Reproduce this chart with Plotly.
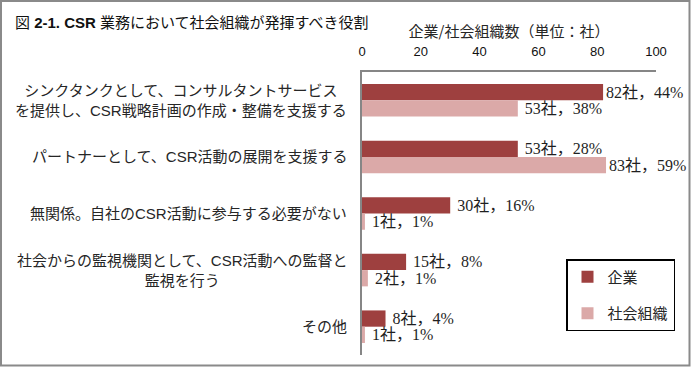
import plotly.graph_objects as go

categories = [
    "シンクタンクとして、コンサルタントサービス<br>を提供し、CSR戦略計画の作成・整備を支援する",
    "パートナーとして、CSR活動の展開を支援する",
    "無関係。自社のCSR活動に参与する必要がない",
    "社会からの監視機関として、CSR活動への監督と<br>監視を行う",
    "その他",
]
kigyo_counts = [82, 53, 30, 15, 8]
kigyo_pct = [44, 28, 16, 8, 4]
shakai_counts = [53, 83, 1, 2, 1]
shakai_pct = [38, 59, 1, 1, 1]
series_names = ["企業", "社会組織"]
x_ticks = [0, 20, 40, 60, 80, 100]

W, H = 692, 368
dark = "#9E403F"
light = "#DBA9A8"
label_font = dict(family="Liberation Serif, Noto Sans CJK JP", size=16, color="#1f1f1f")


def labels(counts, pcts):
    return [f" {c}社，{p}%" if c < 80 else f"{c}社，{p}%" for c, p in zip(counts, pcts)]


fig = go.Figure()
fig.add_trace(go.Bar(
    y=categories, x=kigyo_counts, orientation="h", name=series_names[0],
    marker=dict(color=dark, line=dict(width=0)),
    text=labels(kigyo_counts, kigyo_pct), textposition="outside",
    textfont=label_font, cliponaxis=False, constraintext="none",
    legendgroup="a",
))
fig.add_trace(go.Bar(
    y=categories, x=shakai_counts, orientation="h", name=series_names[1],
    marker=dict(color=light, line=dict(width=0)),
    text=labels(shakai_counts, shakai_pct), textposition="outside",
    textfont=label_font, cliponaxis=False, constraintext="none",
    legendgroup="b",
))

x0p, x1p = 362 / W, 656 / W
y_top, y_bot = 72, 355

for cat in categories:
    fig.add_annotation(
        x=349 / W, xref="paper", xanchor="right",
        y=cat, yref="y", yanchor="middle",
        text=cat, showarrow=False, align="center",
        font=dict(family="Liberation Sans, Noto Sans CJK JP", size=15, color="#262626"),
    )

fig.add_annotation(
    x=13 / W, xref="paper", xanchor="left",
    y=1 - 22 / H, yref="paper", yanchor="middle",
    text="図 <b>2-1. CSR</b> 業務において社会組織が発揮すべき役割",
    showarrow=False,
    font=dict(family="Liberation Sans, Noto Sans CJK JP", size=15, color="#111111"),
)

fig.add_shape(
    type="rect", xref="paper", yref="paper",
    x0=1 / W, x1=689.5 / W, y0=1 - 365.5 / H, y1=1 - 1 / H,
    line=dict(color="#8a8a8a", width=2),
)

fig.update_layout(
    width=W, height=H,
    margin=dict(l=0, r=0, t=0, b=0),
    paper_bgcolor="white", plot_bgcolor="white",
    barmode="group", bargap=0.425, bargroupgap=0,
    showlegend=True,
    legend=dict(
        x=566 / W, y=1 - 259 / H, xanchor="left", yanchor="top",
        bgcolor="white", bordercolor="#000000", borderwidth=1.5,
        font=dict(family="Noto Sans CJK JP", size=15, color="#262626"),
        tracegroupgap=14, traceorder="grouped", itemwidth=30,
    ),
    xaxis=dict(
        domain=[x0p, x1p], range=[0, 100], side="top",
        tickvals=x_ticks, ticktext=[str(v) for v in x_ticks],
        showgrid=False, zeroline=False,
        showline=True, linecolor="#868686", linewidth=1.5,
        ticks="", ticklabelstandoff=9,
        tickfont=dict(family="Liberation Sans", size=13, color="#111111"),
        title=dict(text="企業/社会組織数（単位：社）", standoff=3,
                   font=dict(family="Noto Sans CJK JP", size=15, color="#262626")),
        automargin=False, fixedrange=True,
    ),
    yaxis=dict(
        domain=[1 - y_bot / H, 1 - y_top / H],
        autorange="reversed", showticklabels=False,
        showgrid=False, zeroline=False,
        showline=True, linecolor="#868686", linewidth=1.5,
        ticks="", automargin=False, fixedrange=True,
    ),
)

fig.write_html(
    "out.html",
    config={"displayModeBar": False},
    post_script="document.body.style.margin='0';document.body.style.overflow='hidden';",
)
